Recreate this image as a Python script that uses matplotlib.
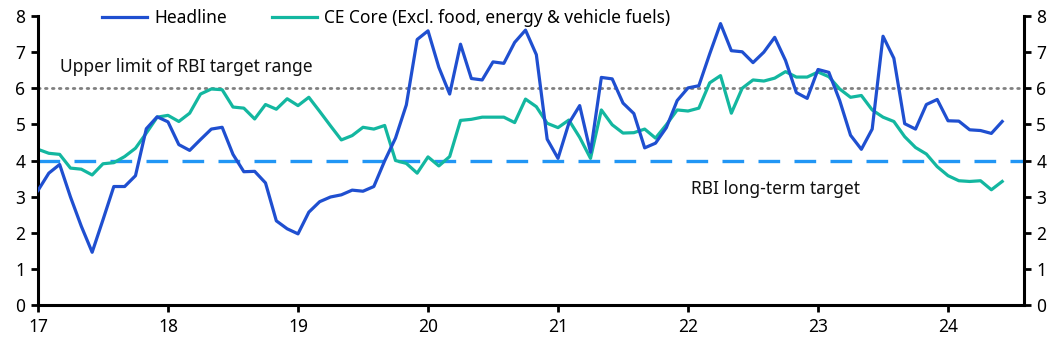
import matplotlib
matplotlib.use("Agg")
import matplotlib.pyplot as plt
import numpy as np

# monthly, Jan 2017 .. Jun 2024 (% y/y)
headline = [
    3.17, 3.65, 3.89, 2.99, 2.18, 1.46, 2.36, 3.28, 3.28, 3.58, 4.88, 5.21,
    5.07, 4.44, 4.28, 4.58, 4.87, 4.92, 4.17, 3.69, 3.70, 3.38, 2.33, 2.11,
    1.97, 2.57, 2.86, 2.99, 3.05, 3.18, 3.15, 3.28, 3.99, 4.62, 5.54, 7.35,
    7.59, 6.58, 5.84, 7.22, 6.27, 6.23, 6.73, 6.69, 7.27, 7.61, 6.93, 4.59,
    4.06, 5.03, 5.52, 4.23, 6.30, 6.26, 5.59, 5.30, 4.35, 4.48, 4.91, 5.66,
    6.01, 6.07, 6.95, 7.79, 7.04, 7.01, 6.71, 7.00, 7.41, 6.77, 5.88, 5.72,
    6.52, 6.44, 5.66, 4.70, 4.31, 4.87, 7.44, 6.83, 5.02, 4.87, 5.55, 5.69,
    5.10, 5.09, 4.85, 4.83, 4.75, 5.08,
]
ce_core = [
    4.31, 4.20, 4.17, 3.79, 3.76, 3.60, 3.91, 3.94, 4.11, 4.34, 4.76, 5.20,
    5.25, 5.08, 5.31, 5.84, 5.98, 5.96, 5.48, 5.45, 5.15, 5.55, 5.42, 5.71,
    5.52, 5.75, 5.36, 4.96, 4.57, 4.69, 4.92, 4.87, 4.97, 4.00, 3.92, 3.65,
    4.10, 3.85, 4.11, 5.11, 5.14, 5.20, 5.20, 5.20, 5.05, 5.70, 5.49, 5.03,
    4.91, 5.12, 4.64, 4.06, 5.40, 4.99, 4.76, 4.77, 4.87, 4.62, 4.99, 5.40,
    5.37, 5.45, 6.15, 6.35, 5.31, 6.00, 6.23, 6.20, 6.28, 6.46, 6.31, 6.31,
    6.45, 6.32, 5.98, 5.75, 5.80, 5.40, 5.20, 5.08, 4.66, 4.36, 4.18, 3.83,
    3.58, 3.44, 3.42, 3.44, 3.19, 3.42,
]
upper_limit = 6.0
long_term_target = 4.0
year_ticks = [17, 18, 19, 20, 21, 22, 23, 24]

months = 17 + np.arange(len(headline)) / 12

plt.rcParams["font.family"] = ["Noto Sans", "DejaVu Sans"]

fig = plt.figure(figsize=(10.61, 3.52), dpi=100)
ax = fig.add_axes([0.0358, 0.1335, 0.9292, 0.821])

ax.axhline(upper_limit, color="#808080", lw=2.0, ls=(0, (0.6, 1.9)),
           dash_capstyle="round", zorder=1)
ax.axhline(long_term_target, color="#2196f5", lw=2.4, ls=(0, (6.5, 4.3)), zorder=1)

ax.plot(months, headline, color="#1f4fd0", lw=2.3, label="Headline", zorder=3)
ax.plot(months, ce_core, color="#13b7a0", lw=2.3,
        label="CE Core (Excl. food, energy & vehicle fuels)", zorder=2)

ax.text(17.17, 6.59, "Upper limit of RBI target range", fontsize=12.5,
        va="center", ha="left", color="#111111")
ax.text(22.02, 3.21, "RBI long-term target", fontsize=12.5,
        va="center", ha="left", color="#111111")

ax.set_xlim(17, 24 + 7 / 12)
ax.set_ylim(0, 8)
ax.set_xticks(year_ticks)
ax.set_xticklabels([str(y) for y in year_ticks])
ax.set_yticks(range(0, 9))

ax.spines["top"].set_visible(False)
for side in ("left", "right", "bottom"):
    ax.spines[side].set_linewidth(2.2)
ax.tick_params(axis="both", which="both", direction="out", length=5, width=2,
               labelsize=12.5, pad=4)
ax.tick_params(axis="y", right=True, labelright=True)

fig.legend(loc="upper center", bbox_to_anchor=(0.364, 1.02), ncol=2, frameon=False,
           fontsize=12.5, handlelength=2.6, columnspacing=2.6, handletextpad=0.4)

fig.savefig("out.png", dpi=100)
